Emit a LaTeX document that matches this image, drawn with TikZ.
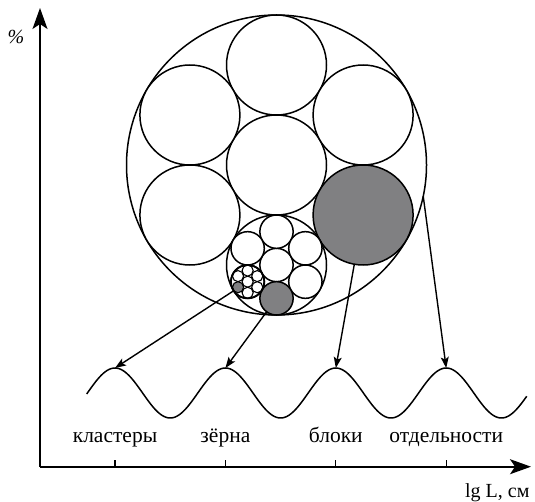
\documentclass[tikz,border=0pt]{standalone}
\usepackage{fontspec}
\setmainfont{Liberation Serif}
\usetikzlibrary{arrows.meta}
\definecolor{fillgray}{RGB}{128,128,130}
\begin{document}
\begin{tikzpicture}[x=1bp,y=-1bp,
  circ/.style={circle, draw, line width=1.5bp, inner sep=0pt, outer sep=0pt, fill=white},
  bigc/.style={circ, minimum size=300bp},
  medc/.style={circ, minimum size=100bp},
  smlc/.style={circ, minimum size=33.33bp},
  tinyc/.style={circ, line width=1.1bp, minimum size=11.11bp},
  dark/.style={fill=fillgray},
  conn/.style={line width=1.4bp, -{Stealth[length=11bp,width=8bp,inset=2.5bp]}},
  axis/.style={line width=1.6bp, -{Stealth[length=21bp,width=15bp,inset=5bp]}},
  lbl/.style={font=\fontsize{21.5bp}{24bp}\selectfont, anchor=base},
  wave/.style={line width=1.5bp}]
\useasboundingbox (0,0) rectangle (535,502);
% big circle and hexagon of medium circles
\node[bigc] (big) at (276.5,165) {};
\node[medc] (mc) at (276.5,165) {};
\node[medc] (mt) at (276.5,65) {};
\node[medc] (mul) at (189.9,115) {};
\node[medc] (mur) at (363.1,115) {};
\node[medc] (mll) at (189.9,215) {};
\node[medc, dark] (mlr) at (363.1,215) {};
\node[medc] (grp) at (276.5,265) {};
% small circles inside the group
\node[smlc] (sc) at (276.5,265) {};
\node[smlc] (st) at (276.5,231.67) {};
\node[smlc] (sul) at (247.63,248.33) {};
\node[smlc] (sur) at (305.37,248.33) {};
\node[smlc] (slr) at (305.37,281.67) {};
\node[smlc, dark] (sb) at (276.5,298.33) {};
\node[smlc] (tc) at (247.63,281.67) {};
% tiny circles inside the cluster
\node[tinyc] (tc0) at (247.63,281.67) {};
\node[tinyc] (tc1) at (247.63,270.56) {};
\node[tinyc] (tc2) at (238.01,276.11) {};
\node[tinyc] (tc3) at (257.25,276.11) {};
\node[tinyc, dark] (tc4) at (238.01,287.22) {};
\node[tinyc] (tc5) at (257.25,287.22) {};
\node[tinyc] (tc6) at (247.63,292.78) {};
\draw[line width=1.8bp] (tc) circle (16.67bp);
% wave
\draw[wave] plot[domain=86.7:526.7, samples=240, smooth] (\x, {393 - 25*cos(3.26087*(\x-115))});
\coordinate (p1) at (115,368);
\coordinate (p2) at (225.4,368);
\coordinate (p3) at (335.8,368);
\coordinate (p4) at (446.2,368);
% connectors
\draw[conn] (tc) -- (p1);
\draw[conn] (sb) -- (p2);
\draw[conn] (mlr) -- (p3);
\draw[conn] (big.-12) -- (p4);
% labels
\node[lbl] (l1) at (115,442) {кластеры};
\node[lbl] (l2) at (225.4,442) {зёрна};
\node[lbl] (l3) at (335.8,442) {блоки};
\node[lbl] (l4) at (446.2,442) {отдельности};
% axes
\coordinate (o) at (40,466.7);
\coordinate (yend) at (40,8);
\coordinate (xend) at (531,466.7);
\draw[axis] (o) -- (yend);
\draw[axis] (o) -- (xend);
\foreach \t in {115,225.4,335.8,446.2}
  \draw[line width=1.3bp] (\t,466.7) -- (\t,459.5);
\node[font=\fontsize{20bp}{22bp}\selectfont\itshape] (pct) at (16,37) {\%};
\node[font=\fontsize{20bp}{22bp}\selectfont, anchor=base east] (xl) at (533,497) {lg L, см};
\end{tikzpicture}
\end{document}
